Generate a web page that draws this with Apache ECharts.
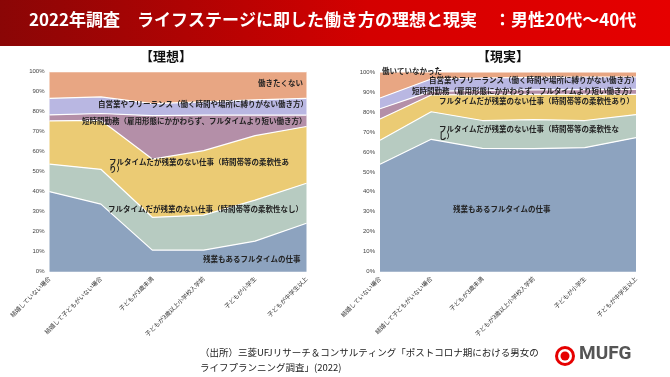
<!DOCTYPE html>
<html>
<head>
<meta charset="utf-8">
<script src="https://cdn.jsdelivr.net/npm/echarts@6/dist/echarts.min.js"></script>
<style>
    html, body { margin: 0; padding: 0; background: #fff; }
    #main { width: 670px; height: 377px; }
</style>
</head>
<body>
<div id="main"></div>
<script>
// 横軸カテゴリ
var stages = ['結婚していない場合', '結婚して子どもがいない場合', '子どもが3歳未満',
    '子どもが3歳以上小学校入学前', '子どもが小学生', '子どもが中学生以上'];
var yTicks = ['0%', '10%', '20%', '30%', '40%', '50%', '60%', '70%', '80%', '90%', '100%'];

// 系列名（下から順）
var seriesNames = ['残業もあるフルタイムの仕事', 'フルタイムだが残業のない仕事（時間帯等の柔軟性なし）',
    'フルタイムだが残業のない仕事（時間帯等の柔軟性あり）', '短時間勤務（雇用形態にかかわらず、フルタイムより短い働き方）',
    '自営業やフリーランス（働く時間や場所に縛りがない働き方）', '働きたくない'];

// 理想
var idealFull = [40, 33.8, 10.8, 10.8, 15.3, 24.2];
var idealNoOverNoFlex = [13.8, 17.4, 16.4, 17.5, 20.5, 20];
var idealNoOverFlex = [21.6, 24.5, 29.1, 32.2, 32.2, 28.4];
var idealShort = [3, 3.4, 21.7, 17.8, 10.3, 5.7];
var idealFree = [8.3, 8.3, 6, 6.6, 7.6, 8.4];
var idealNoWork = [13.3, 12.6, 16, 15.1, 14.1, 13.3];

// 現実
var realFull = [53.8, 66.3, 61.8, 61.6, 62.1, 67.1];
var realNoOverNoFlex = [12, 13.8, 13.9, 14.6, 13.6, 11.6];
var realNoOverFlex = [10.7, 8.4, 13, 12.6, 13.1, 10.1];
var realShort = [5.1, 1.8, 2.1, 2.2, 2.4, 2.5];
var realFree = [5.4, 6.2, 6.2, 6.3, 6.3, 6.2];
var realNoWork = [13, 3.5, 3, 2.7, 2.5, 2.5];

var colors = ['#8da3bf', '#b7cbc1', '#ebcb74', '#b48fa8', '#b9b7e2', '#e8a683'];

var myChart = echarts.init(document.getElementById('main'));

function makeSeries(stackName, idx, dataList) {
    var res = [];
    for (var i = 0; i < dataList.length; i++) {
        res.push({
            name: seriesNames[i],
            type: 'line',
            stack: stackName,
            xAxisIndex: idx,
            yAxisIndex: idx,
            symbol: 'none',
            data: dataList[i],
            lineStyle: { color: '#ffffff', width: 1.2 },
            areaStyle: { color: colors[i], opacity: 1 },
            itemStyle: { color: colors[i] },
            z: 2
        });
    }
    return res;
}

function xAxisOf(idx) {
    return {
        type: 'category',
        gridIndex: idx,
        data: stages,
        boundaryGap: false,
        axisLine: { show: false },
        axisTick: { show: false },
        axisLabel: { rotate: 45, fontSize: 6, color: '#333', margin: 6, interval: 0,
            fontFamily: 'Noto Sans CJK JP' }
    };
}

function yAxisOf(idx) {
    return {
        type: 'value',
        gridIndex: idx,
        min: 0,
        max: 100,
        interval: 10,
        splitLine: { show: false },
        axisLine: { show: false },
        axisTick: { show: false },
        axisLabel: {
            fontSize: 6, color: '#444', margin: 5,
            formatter: function (v) { return yTicks[Math.round(v / 10)]; }
        }
    };
}

function note(x, y, str, align) {
    return {
        type: 'text', left: x, top: y, z: 10,
        style: { text: str, fill: '#222', fontSize: 7.5, fontWeight: 'bold',
            fontFamily: 'Noto Sans CJK JP', align: align || 'left' }
    };
}

var option = {
    animation: false,
    backgroundColor: '#ffffff',
    grid: [
        { left: 49.5, right: 363.5, top: 71.7, bottom: 105.3 },
        { left: 380, right: 34, top: 72, bottom: 105.3 }
    ],
    xAxis: [xAxisOf(0), xAxisOf(1)],
    yAxis: [yAxisOf(0), yAxisOf(1)],
    series: makeSeries('ideal', 0, [idealFull, idealNoOverNoFlex, idealNoOverFlex, idealShort, idealFree, idealNoWork])
        .concat(makeSeries('real', 1, [realFull, realNoOverNoFlex, realNoOverFlex, realShort, realFree, realNoWork])),
    graphic: [
        {
            type: 'rect', left: 0, top: 0, z: 0,
            shape: { width: 670, height: 46 },
            style: {
                fill: new echarts.graphic.LinearGradient(0, 0, 1, 0, [
                    { offset: 0, color: '#8a0606' },
                    { offset: 0.55, color: '#d40000' },
                    { offset: 1, color: '#e60000' }
                ])
            }
        },
        {
            type: 'text', left: 29, top: 11, z: 10,
            style: { text: '2022年調査　ライフステージに即した働き方の理想と現実　：男性20代～40代',
                fill: '#fff', fontSize: 17, fontWeight: 'bold', fontFamily: 'Noto Sans CJK JP' }
        },
        {
            type: 'text', left: 140, top: 50, z: 10,
            style: { text: '【理想】', fill: '#111', fontSize: 13, fontWeight: 'bold', fontFamily: 'Noto Sans CJK JP' }
        },
        {
            type: 'text', left: 477, top: 50, z: 10,
            style: { text: '【現実】', fill: '#111', fontSize: 13, fontWeight: 'bold', fontFamily: 'Noto Sans CJK JP' }
        },
        // 理想のラベル
        note(258, 79, '働きたくない'),
        note(98, 100, '自営業やフリーランス（働く時間や場所に縛りがない働き方）'),
        note(82, 117, '短時間勤務（雇用形態にかかわらず、フルタイムより短い働き方）'),
        note(109, 158, 'フルタイムだが残業のない仕事（時間帯等の柔軟性あ\nり）'),
        note(108, 205, 'フルタイムだが残業のない仕事（時間帯等の柔軟性なし）'),
        note(203, 255, '残業もあるフルタイムの仕事'),
        // 現実のラベル
        note(382, 67, '働いていなかった'),
        note(429, 76, '自営業やフリーランス（働く時間や場所に縛りがない働き方）'),
        note(412, 87, '短時間勤務（雇用形態にかかわらず、フルタイムより短い働き方）'),
        note(439, 97, 'フルタイムだが残業のない仕事（時間帯等の柔軟性あり）'),
        note(439, 125, 'フルタイムだが残業のない仕事（時間帯等の柔軟性な\nし）'),
        note(453, 205, '残業もあるフルタイムの仕事'),
        // 出所
        {
            type: 'text', left: 200, top: 345, z: 10,
            style: { text: '（出所）三菱UFJリサーチ＆コンサルティング「ポストコロナ期における男女の\nライフプランニング調査」(2022)',
                fill: '#222', fontSize: 9.5, lineHeight: 15, fontFamily: 'Noto Sans CJK JP' }
        },
        // ロゴ
        { type: 'circle', shape: { cx: 565, cy: 356, r: 10 }, style: { fill: '#e60000' }, z: 10 },
        { type: 'circle', shape: { cx: 565, cy: 356, r: 7 }, style: { fill: '#ffffff' }, z: 11 },
        { type: 'circle', shape: { cx: 565, cy: 356, r: 4.5 }, style: { fill: '#e60000' }, z: 12 },
        {
            type: 'text', left: 579, top: 345, z: 10,
            style: { text: 'MUFG', fill: '#555', fontSize: 19, fontWeight: 'bold', fontFamily: 'Roboto' }
        }
    ]
};

myChart.setOption(option);
</script>
</body>
</html>
